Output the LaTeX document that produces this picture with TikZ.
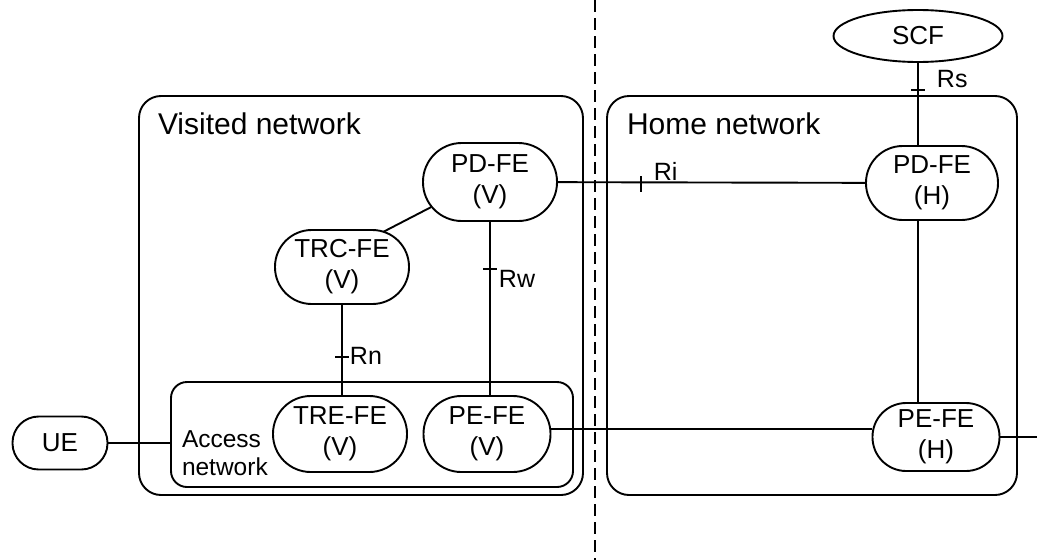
\documentclass[tikz,border=0pt]{standalone}
\usepackage{fontspec}
\setmainfont{Liberation Sans}
\usetikzlibrary{calc}
\usetikzlibrary{shapes.geometric}
\newcommand{\tickv}[1]{ \draw ($(#1)+(0,-6)$) -- ($(#1)+(0,10)$);}
\newcommand{\tickh}[1]{ \draw ($(#1)+(-7,0)$) -- ($(#1)+(7,0)$);}
\tikzset{
  fe/.style 2 args={draw, rectangle, align=center, inner sep=0pt,
    minimum width=#1, minimum height=#2, rounded corners=0.5*#2pt-0.3pt,
    font=\fontsize{26}{31}\selectfont},
  netbox/.style={draw, rounded corners=22pt, inner sep=0pt},
  title/.style={anchor=base west, inner sep=0pt, font=\fontsize{30}{36}\selectfont},
  reflbl/.style={anchor=base west, inner sep=0pt, font=\fontsize{25}{30}\selectfont},
}

\begin{document}
\begin{tikzpicture}[x=1pt, y=-1pt, line width=1.9pt]
        \useasboundingbox (0,0) rectangle (1037,560);

        % border between the networks
        \draw[dash pattern=on 12pt off 6pt] (595,0) -- (595,560);

        % network boxes
        \node[netbox, minimum width=444, minimum height=399] (visited) at (361,295.5) {};
        \node[netbox, minimum width=410, minimum height=399] (home) at (812,295.5) {};
        \node[netbox, rounded corners=16pt, minimum width=402, minimum height=105] (access) at (372,434.5) {};
        \node[title] (visitedlbl) at ([shift={(19,39)}]visited.north west) {Visited network};
        \node[title] (homelbl) at ([shift={(20,39)}]home.north west) {Home network};
        \node[anchor=west, align=left, inner sep=0pt, font=\fontsize{24.5}{28}\selectfont]
            (accesslbl) at ($(access.west)+(11,19)$) {Access\\network};

        % functional entities
        \node[fe={134}{78}] (pdv) at (490,182) {PD-FE\\(V)};
        \node[fe={132}{74}] (pdh) at (932,183) {PD-FE\\(H)};
        \node[fe={134}{74}] (trc) at (342,267) {TRC-FE\\(V)};
        \node[fe={134}{76}] (tre) at (340,434) {TRE-FE\\(V)};
        \node[fe={127}{76}] (pev) at (487,434) {PE-FE\\(V)};
        \node[fe={127}{68}] (peh) at (936,437) {PE-FE\\(H)};
        \node[fe={95}{53}] (ue) at (60,443) {UE};
        \node[draw, ellipse, inner sep=0pt, minimum width=169, minimum height=52,
            font=\fontsize{26}{30}\selectfont] (scf) at (918,36) {SCF};
        \coordinate (out) at (1037,440);

        % reference points
        \draw (scf) -- (scf |- pdh.north) coordinate[pos=.33] (rs);
        \draw (pdv) -- (pdh) coordinate[pos=.27] (ri);
        \draw (pdv) -- (pdv |- pev.north) coordinate[pos=.27] (rw);
        \draw (trc) -- (trc |- tre.north) coordinate[pos=.58] (rn);
        \tickh{rs}
        \tickv{ri}
        \tickh{rw}
        \tickh{rn}
        \node[reflbl] (rslbl) at ($(rs)+(18,-3)$) {Rs};
        \node[reflbl] (rilbl) at ($(ri)+(12,-2)$) {Ri};
        \node[reflbl] (rwlbl) at ($(rw)+(8,19)$) {Rw};
        \node[reflbl] (rnlbl) at ($(rn)+(7,7)$) {Rn};

        % other links
        \draw ($(pdv.west)+(39,0)+(140:39)$) -- ($(trc.east)+(-37,0)+(-73:37)$);
        \draw (scf |- pdh.south) -- (scf |- peh.north);
        \draw (ue) -- (ue -| access.west);
        \draw ([yshift=5]pev.east) -- ([yshift=5]pev.east -| peh.west);
        \draw (peh.east) -- (peh.east -| out);
\end{tikzpicture}
\end{document}
